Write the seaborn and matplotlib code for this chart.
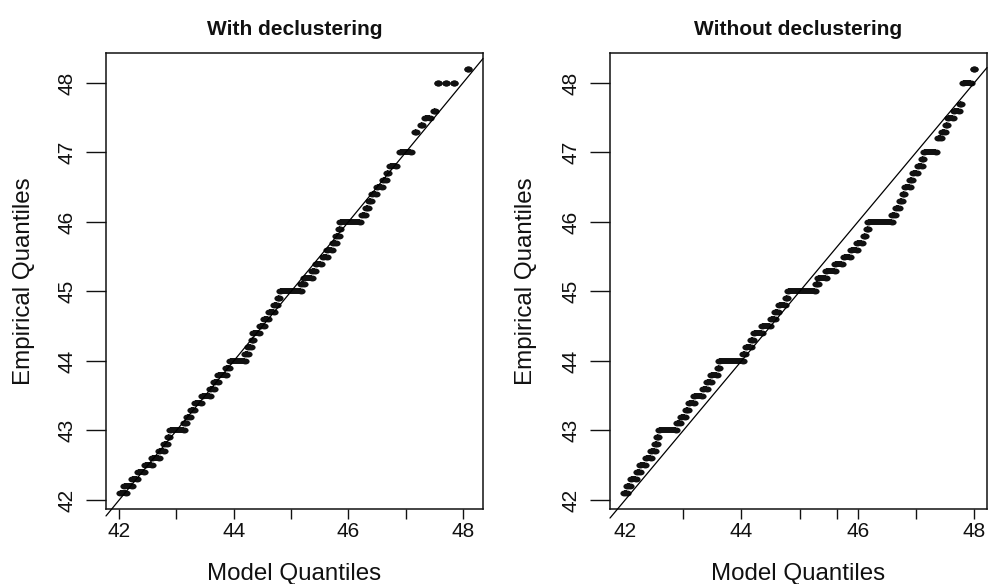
import numpy as np
import pandas as pd
import matplotlib
matplotlib.use("Agg")
import matplotlib.pyplot as plt
import seaborn as sns
from matplotlib.path import Path

sns.set_style("white")
plt.rcParams["font.family"] = ["Liberation Sans", "DejaVu Sans"]
plt.rcParams["text.color"] = "#111111"
plt.rcParams["axes.labelcolor"] = "#111111"

# ---- data: each horizontal run of points = (empirical level, first model quantile, last model quantile)
decl_level = [42.1, 42.2, 42.3, 42.4, 42.5, 42.6, 42.7, 42.8, 42.9, 43.0,
              43.1, 43.2, 43.3, 43.4, 43.5, 43.6, 43.7, 43.8, 43.9, 44.0,
              44.1, 44.2, 44.3, 44.4, 44.5, 44.6, 44.7, 44.8, 44.9, 45.0,
              45.1, 45.2, 45.3, 45.4, 45.5, 45.6, 45.7, 45.8, 45.9, 46.0,
              46.1, 46.2, 46.3, 46.4, 46.5, 46.6, 46.7, 46.8, 47.0, 47.3,
              47.4, 47.5, 47.6, 48.0, 48.0, 48.0, 48.2]
decl_start = [42.01, 42.09, 42.23, 42.32, 42.45, 42.58, 42.70, 42.79, 42.85, 42.88,
              43.14, 43.18, 43.25, 43.32, 43.44, 43.59, 43.66, 43.73, 43.87, 43.93,
              44.20, 44.25, 44.31, 44.34, 44.45, 44.53, 44.61, 44.71, 44.77, 44.81,
              45.18, 45.23, 45.37, 45.43, 45.55, 45.63, 45.73, 45.79, 45.84, 45.86,
              46.23, 46.30, 46.36, 46.42, 46.50, 46.61, 46.67, 46.72, 46.91, 47.16,
              47.27, 47.33, 47.49, 47.57, 47.71, 47.85, 48.09]
decl_end = [42.12, 42.22, 42.31, 42.44, 42.57, 42.69, 42.78, 42.84, 42.87, 43.13,
            43.17, 43.24, 43.31, 43.43, 43.58, 43.65, 43.72, 43.86, 43.91, 44.19,
            44.24, 44.30, 44.33, 44.44, 44.52, 44.59, 44.70, 44.76, 44.79, 45.17,
            45.22, 45.36, 45.41, 45.53, 45.62, 45.72, 45.78, 45.83, 45.85, 46.21,
            46.29, 46.34, 46.40, 46.48, 46.59, 46.66, 46.70, 46.84, 47.09, 47.18,
            47.29, 47.42, 47.51, 47.57, 47.71, 47.85, 48.09]

raw_level = [42.1, 42.2, 42.3, 42.4, 42.5, 42.6, 42.7, 42.8, 42.9, 43.0,
             43.1, 43.2, 43.3, 43.4, 43.5, 43.6, 43.7, 43.8, 43.9, 44.0,
             44.1, 44.2, 44.3, 44.4, 44.5, 44.6, 44.7, 44.8, 44.9, 45.0,
             45.1, 45.2, 45.3, 45.4, 45.5, 45.6, 45.7, 45.8, 45.9, 46.0,
             46.1, 46.2, 46.3, 46.4, 46.5, 46.6, 46.7, 46.8, 46.9, 47.0,
             47.2, 47.3, 47.4, 47.5, 47.6, 47.7, 48.0, 48.2]
raw_start = [41.98, 42.04, 42.10, 42.20, 42.26, 42.36, 42.45, 42.52, 42.55, 42.58,
             42.89, 42.96, 43.04, 43.09, 43.19, 43.33, 43.41, 43.48, 43.59, 43.62,
             44.03, 44.07, 44.17, 44.21, 44.36, 44.50, 44.58, 44.64, 44.76, 44.80,
             45.28, 45.32, 45.46, 45.61, 45.76, 45.88, 45.99, 46.10, 46.15, 46.18,
             46.59, 46.65, 46.73, 46.77, 46.81, 46.90, 46.94, 47.04, 47.11, 47.14,
             47.37, 47.44, 47.51, 47.55, 47.66, 47.76, 47.80, 47.99]
raw_end = [42.03, 42.09, 42.19, 42.25, 42.35, 42.44, 42.51, 42.54, 42.57, 42.88,
           42.95, 43.03, 43.08, 43.18, 43.32, 43.40, 43.47, 43.58, 43.61, 44.02,
           44.06, 44.16, 44.20, 44.35, 44.49, 44.57, 44.63, 44.75, 44.79, 45.27,
           45.31, 45.45, 45.60, 45.72, 45.86, 45.98, 46.08, 46.12, 46.17, 46.58,
           46.64, 46.71, 46.76, 46.80, 46.89, 46.93, 47.02, 47.10, 47.12, 47.35,
           47.43, 47.49, 47.54, 47.64, 47.74, 47.78, 47.95, 48.00]

x_ticks = [42, 43, 44, 45, 46, 47, 48]
x_ticklabels = ["42", "", "44", "", "46", "", "48"]
y_ticks = [42, 43, 44, 45, 46, 47, 48]
y_ticklabels = ["42", "43", "44", "45", "46", "47", "48"]

titles = ["With declustering", "Without declustering"]

W, H = 994, 584
fig = plt.figure(figsize=(W / 100, H / 100), dpi=100)
ax1 = fig.add_axes([106 / W, (H - 509) / H, 377 / W, 456 / H])
ax2 = fig.add_axes([610 / W, (H - 509) / H, 377 / W, 456 / H])

circ = Path.unit_circle()
ell = Path(circ.vertices * np.array([1.38, 1.0]), circ.codes)

panels = [
    (ax1, decl_level, decl_start, decl_end, (41.77, 48.35), titles[0]),
    (ax2, raw_level, raw_start, raw_end, (41.74, 48.22), titles[1]),
]

for ax, lev, st, en, xl, ttl in panels:
    df = pd.DataFrame({"level": lev, "start": st, "end": en})
    pts = pd.concat([
        pd.DataFrame({"model": df["start"], "empirical": df["level"]}),
        pd.DataFrame({"model": df["end"], "empirical": df["level"]}),
    ])
    ax.hlines(df["level"], df["start"], df["end"], color="#111111",
              linewidth=4.3, capstyle="butt", zorder=3)
    sns.scatterplot(data=pts, x="model", y="empirical", marker=ell, s=35,
                    color="#111111", linewidth=0, ax=ax, zorder=3)
    ax.set_xlim(*xl)
    ax.set_ylim(41.87, 48.43)
    ax.plot([xl[0], xl[1]], [xl[0], xl[1]], color="black", lw=0.9,
            clip_on=False, zorder=4)

    ax.set_xticks(x_ticks)
    ax.set_xticklabels(x_ticklabels)
    ax.set_yticks(y_ticks)
    ax.set_yticklabels(y_ticklabels, rotation=90, va="center")
    ax.tick_params(axis="x", direction="out", length=7.2, width=1.0,
                   labelsize=15, pad=2, bottom=True, colors="#111111")
    ax.tick_params(axis="y", direction="out", length=14.4, width=1.0,
                   labelsize=15, pad=6.5, left=True, colors="#111111")
    for sp in ax.spines.values():
        sp.set_visible(True)
        sp.set_color("#111111")
        sp.set_linewidth(1.1)

    ax.set_xlabel("Model Quantiles", fontsize=17.4)
    ax.set_ylabel("Empirical Quantiles", fontsize=17.4)
    ax.set_title(ttl, fontsize=15, fontweight="bold", pad=13)

ax1.xaxis.set_label_coords(0.5, (509 - 574) / 456)
ax1.xaxis.label.set_va("center")
ax2.xaxis.set_label_coords(0.5, (509 - 574) / 456)
ax2.xaxis.label.set_va("center")
ax1.yaxis.set_label_coords((24 - 106) / 377, 0.5)
ax1.yaxis.label.set_va("center")
ax2.yaxis.set_label_coords((526 - 610) / 377, 0.5)
ax2.yaxis.label.set_va("center")

# right panel: no tick mark at 42, extra unlabeled tick near 45.64
ax2.xaxis.get_major_ticks()[0].tick1line.set_visible(False)
ax2.set_xticks([45.64], minor=True)
ax2.tick_params(axis="x", which="minor", direction="out", length=7.2, width=1.0,
                bottom=True, colors="#111111")

fig.savefig("out.png", dpi=100)
